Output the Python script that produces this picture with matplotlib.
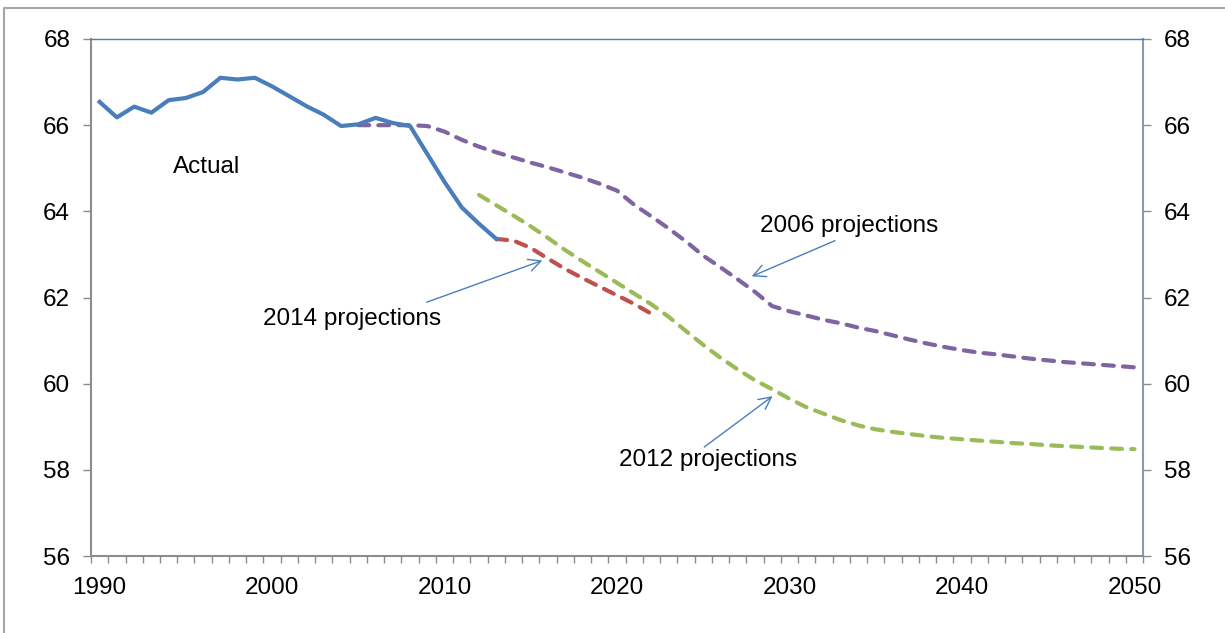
import numpy as np
import matplotlib.pyplot as plt
from matplotlib.lines import Line2D
from matplotlib.ticker import FixedLocator

plt.rcParams['font.family'] = ['Liberation Sans', 'DejaVu Sans']

# actual values
actual_years = list(range(1990, 2014))
actual = [66.54, 66.18, 66.43, 66.29, 66.58, 66.63, 66.77, 67.10, 67.06, 67.10,
          66.90, 66.67, 66.44, 66.24, 65.98, 66.02, 66.17, 66.05, 65.98, 65.33,
          64.68, 64.09, 63.71, 63.36]

# 2006 projections
proj06_years = list(range(2005, 2051))
proj06 = [66.00, 66.00, 66.00, 66.00, 65.98, 65.85, 65.66, 65.50, 65.37, 65.25,
          65.13, 65.02, 64.90, 64.78, 64.64, 64.48, 64.15, 63.88, 63.60, 63.30,
          62.97, 62.70, 62.42, 62.13, 61.80, 61.68, 61.58, 61.48, 61.40, 61.30,
          61.22, 61.12, 61.02, 60.93, 60.85, 60.78, 60.72, 60.68, 60.63, 60.58,
          60.54, 60.50, 60.47, 60.44, 60.41, 60.38]

# 2012 projections
proj12_years = list(range(2012, 2051))
proj12 = [64.38, 64.14, 63.90, 63.65, 63.38, 63.10, 62.84, 62.59, 62.34, 62.09,
          61.84, 61.55, 61.22, 60.90, 60.60, 60.33, 60.08, 59.87, 59.65, 59.45,
          59.30, 59.15, 59.03, 58.94, 58.88, 58.83, 58.78, 58.74, 58.71, 58.68,
          58.65, 58.62, 58.60, 58.57, 58.55, 58.53, 58.51, 58.49, 58.48]

# 2014 projections
proj14_years = list(range(2013, 2023))
proj14 = [63.36, 63.32, 63.15, 62.90, 62.66, 62.45, 62.25, 62.05, 61.85, 61.62]

x_labels = [1990, 2000, 2010, 2020, 2030, 2040, 2050]
y_ticks = [56, 58, 60, 62, 64, 66, 68]

fs = 17.5

fig = plt.figure(figsize=(12.25, 6.33), dpi=100)
ax = fig.add_axes([0.0743, 0.1216, 0.8588, 0.8168])

dash_kw = dict(lw=3, dashes=(2.6, 2.2), dash_capstyle='round')
ax.plot(proj06_years, proj06, color='#8064A2', **dash_kw)
ax.plot(proj12_years, proj12, color='#9BBB59', **dash_kw)
ax.plot(proj14_years, proj14, color='#C0504D', **dash_kw)
ax.plot(actual_years, actual, color='#4A7EBB', lw=3, solid_joinstyle='round')

ax.set_xlim(1989.5, 2050.5)
ax.set_ylim(56, 68)
ax.set_xticks(x_labels)
ax.xaxis.set_minor_locator(FixedLocator(np.arange(1989.5, 2051, 1)))
ax.set_yticks(y_ticks)

ax.tick_params(axis='x', which='major', length=0, pad=15, labelsize=fs)
ax.tick_params(axis='x', which='minor', length=5, width=1, color='#8C8C8C', direction='out')
ax.tick_params(axis='y', which='major', length=6, width=1, color='#8C8C8C', direction='out',
               left=True, right=True, labelleft=True, labelright=True, labelsize=fs, pad=9)

ax.spines['top'].set_color('#4A7EBB')
ax.spines['top'].set_linewidth(1)
ax.spines['left'].set_color('#8C8C8C')
ax.spines['bottom'].set_color('#8C8C8C')
ax.spines['right'].set_color('#8A9AB0')
for s in ['left', 'bottom', 'right']:
    ax.spines[s].set_linewidth(1.5)

ax.text(1996.2, 65.03, 'Actual', fontsize=fs, ha='center', va='center')

arrow_kw = dict(arrowstyle='->', color='#4A7EBB', lw=1, mutation_scale=22,
                shrinkA=0, shrinkB=0)
ax.text(2004.66, 61.51, '2014 projections', fontsize=fs, ha='center', va='center')
ax.annotate('', xy=(2015.67, 62.86), xytext=(2008.96, 61.89), arrowprops=arrow_kw)
ax.text(2033.48, 63.65, '2006 projections', fontsize=fs, ha='center', va='center')
ax.annotate('', xy=(2027.81, 62.49), xytext=(2032.64, 63.32), arrowprops=arrow_kw)
ax.text(2025.25, 58.22, '2012 projections', fontsize=fs, ha='center', va='center')
ax.annotate('', xy=(2029.02, 59.71), xytext=(2025.06, 58.53), arrowprops=arrow_kw)

# outer chart frame
fig.add_artist(Line2D([0.0033, 0.0033, 1.0], [0.0, 0.987, 0.987],
                      transform=fig.transFigure, color='#A6A6A6', lw=1.5))

fig.savefig('out.png', dpi=100)
